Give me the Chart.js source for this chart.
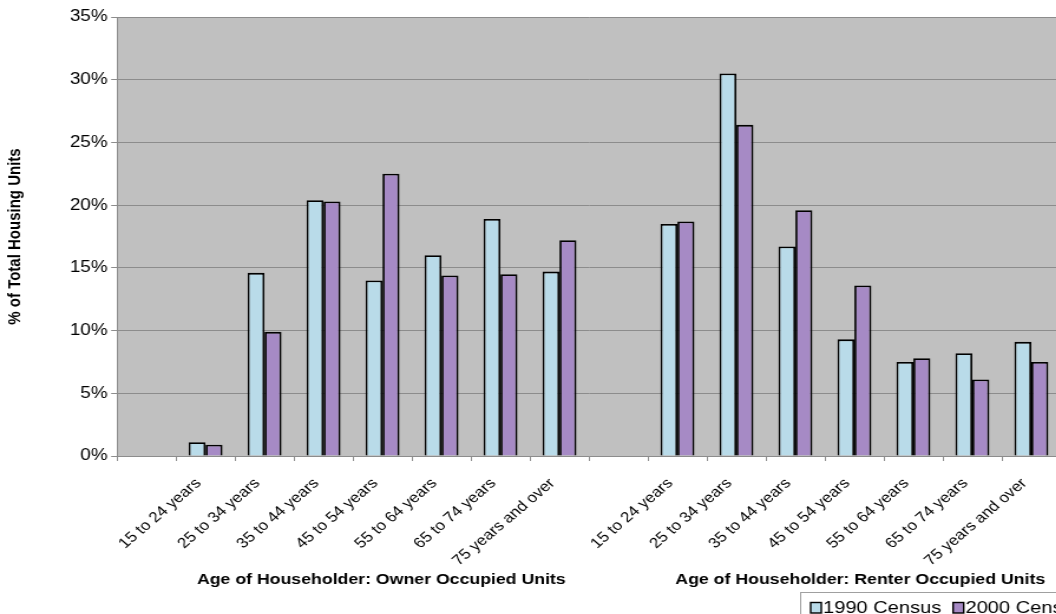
<!DOCTYPE html>
<html>
<head>
<meta charset="utf-8">
<title>Housing Units by Age of Householder</title>
<script src="https://cdn.jsdelivr.net/npm/chart.js@4.4.1/dist/chart.umd.min.js"></script>
<style>
  html, body { margin: 0; padding: 0; background: #fff; overflow: hidden; }
  /* the chart is drawn a bit narrow and stretched wide, like the printed report */
  #wrap { width: 910px; height: 614px; transform: scaleX(1.18); transform-origin: 0 0; }
</style>
</head>
<body>
<div id="wrap"><canvas id="housing_chart"></canvas></div>
<script>
const ageGroups = ['15 to 24 years', '25 to 34 years', '35 to 44 years', '45 to 54 years',
    '55 to 64 years', '65 to 74 years', '75 years and over'];
const owner1990 = [1.1, 14.6, 20.4, 14.0, 16.0, 18.9, 14.7];
const owner2000 = [0.9, 9.9, 20.3, 22.5, 14.4, 14.5, 17.2];
const renter1990 = [18.5, 30.5, 16.7, 9.3, 7.5, 8.2, 9.1];
const renter2000 = [18.7, 26.4, 19.6, 13.6, 7.8, 6.1, 7.5];
const seriesNames = ['1990 Census', '2000 Census'];
const groupTitles = ['Age of Householder: Owner Occupied Units', 'Age of Householder: Renter Occupied Units'];
const yTicks = [0, 5, 10, 15, 20, 25, 30, 35];

const FONT = "'Liberation Sans', Arial, sans-serif";
const colors = ['#b9dbe9', '#a68ac5'];

// one empty slot before each group keeps owner and renter bars apart
const labels = ['', ...ageGroups, '', ...ageGroups];
const data1990 = [null, ...owner1990, null, ...renter1990];
const data2000 = [null, ...owner2000, null, ...renter2000];

const plotBackground = {
    id: 'plotBackground',
    beforeDraw(chart) {
        const { ctx, chartArea } = chart;
        ctx.save();
        ctx.fillStyle = '#c0c0c0';
        ctx.fillRect(chartArea.left, chartArea.top, chartArea.right - chartArea.left, chartArea.bottom - chartArea.top);
        ctx.restore();
    }
};

// group titles sit under the middle age group of each half
const groupLabels = {
    id: 'groupLabels',
    afterDraw(chart) {
        const { ctx } = chart;
        const x = chart.scales.x;
        ctx.save();
        ctx.fillStyle = '#000';
        ctx.font = `bold 15px ${FONT}`;
        ctx.textAlign = 'center';
        ctx.textBaseline = 'alphabetic';
        ctx.fillText(groupTitles[0], x.getPixelForValue(4) - 1, 583.5);
        ctx.fillText(groupTitles[1], x.getPixelForValue(12) + 5, 583.5);
        ctx.restore();
    }
};

// boxed legend under the renter group
const censusLegend = {
    id: 'censusLegend',
    afterDraw(chart) {
        const { ctx } = chart;
        const left = 678.5, top = 592.5;
        ctx.save();
        ctx.strokeStyle = '#a0a0a0';
        ctx.lineWidth = 1;
        ctx.strokeRect(left, top, 300, 40);
        ctx.font = `17px ${FONT}`;
        ctx.textBaseline = 'middle';
        ctx.textAlign = 'left';
        let x = left + 8.5;
        chart.data.datasets.forEach(ds => {
            ctx.fillStyle = ds.backgroundColor;
            ctx.fillRect(x, 602.5, 9, 10.5);
            ctx.strokeStyle = '#000';
            ctx.lineWidth = 1.4;
            ctx.strokeRect(x, 602.5, 9, 10.5);
            ctx.fillStyle = '#000';
            ctx.fillText(ds.label, x + 10.5, 608.5);
            x += 10.5 + ctx.measureText(ds.label).width + 10;
        });
        ctx.restore();
    }
};

const chart = new Chart(document.getElementById('housing_chart'), {
    type: 'bar',
    data: {
        labels: labels,
        datasets: [
            { label: seriesNames[0], data: data1990, backgroundColor: colors[0], borderColor: '#000', borderWidth: 1.8 },
            { label: seriesNames[1], data: data2000, backgroundColor: colors[1], borderColor: '#000', borderWidth: 1.8 }
        ]
    },
    options: {
        responsive: true,
        maintainAspectRatio: false,
        animation: false,
        layout: { padding: { top: 17, right: 11, bottom: 0, left: 0 } },
        datasets: { bar: { categoryPercentage: 0.576, barPercentage: 1 } },
        plugins: {
            legend: { display: false },
            tooltip: { enabled: false }
        },
        scales: {
            x: {
                grid: { drawOnChartArea: false, drawTicks: true, tickLength: 5, color: '#8c8c8c', offset: true },
                border: { display: true, color: '#8c8c8c', width: 1 },
                ticks: {
                    autoSkip: false, minRotation: 45, maxRotation: 45, padding: 14, labelOffset: -6,
                    color: '#000', font: { family: FONT, size: 14.5 }
                },
                afterFit(scale) { scale.height = 158; }
            },
            y: {
                min: 0,
                max: 35,
                afterBuildTicks(scale) { scale.ticks = yTicks.map(v => ({ value: v })); },
                grid: { color: '#8c8c8c', lineWidth: 1, tickLength: 5 },
                border: { display: true, color: '#8c8c8c', width: 1 },
                ticks: {
                    padding: 3, color: '#000', font: { family: FONT, size: 16 },
                    callback: v => v + '%'
                },
                title: {
                    display: true, text: '% of Total Housing Units', color: '#000',
                    font: { family: FONT, size: 15, weight: 'bold' }
                },
                afterFit(scale) { scale.width = 99.2; }
            }
        }
    },
    plugins: [plotBackground, groupLabels, censusLegend]
});
</script>
</body>
</html>
